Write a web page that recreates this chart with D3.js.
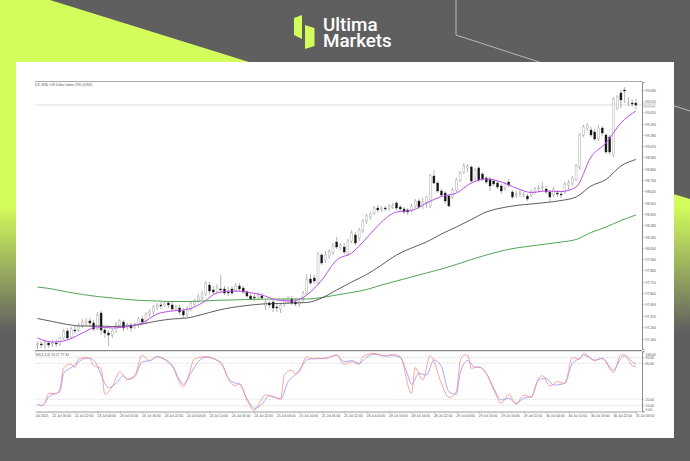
<!DOCTYPE html>
<html>
<head>
<meta charset="utf-8">
<script src="https://cdn.jsdelivr.net/npm/d3@7"></script>
<style>
  html, body { margin: 0; padding: 0; background: #5f5f5f; }
  svg { display: block; }
  text { font-family: "Liberation Sans", sans-serif; }
</style>
</head>
<body>
<div id="chart-area"></div>
<script>
// candles, one per bar
var opens = [97.08,97.09,97.08,97.10,97.09,97.10,97.09,97.15,97.22,97.16,
  97.23,97.23,97.28,97.30,97.32,97.30,97.24,97.40,97.23,97.20,
  97.18,97.22,97.28,97.31,97.26,97.28,97.26,97.28,97.34,97.32,
  97.39,97.41,97.46,97.48,97.48,97.50,97.48,97.44,97.45,97.42,
  97.39,97.44,97.49,97.52,97.56,97.59,97.68,97.63,97.62,97.64,
  97.64,97.61,97.64,97.63,97.67,97.65,97.61,97.57,97.56,97.56,
  97.57,97.47,97.50,97.51,97.46,97.44,97.48,97.52,97.54,97.51,
  97.49,97.54,97.60,97.74,97.75,97.70,97.98,97.93,97.97,98.00,
  98.11,98.06,98.06,97.99,98.12,98.18,98.15,98.23,98.32,98.36,
  98.40,98.45,98.44,98.45,98.45,98.46,98.50,98.46,98.44,98.43,
  98.43,98.47,98.52,98.47,98.50,98.47,98.77,98.70,98.62,98.60,
  98.57,98.56,98.63,98.73,98.81,98.85,98.86,98.75,98.85,98.79,
  98.75,98.74,98.72,98.70,98.67,98.65,98.71,98.61,98.58,98.59,
  98.58,98.57,98.58,98.61,98.64,98.65,98.64,98.61,98.58,98.60,
  98.59,98.61,98.68,98.70,98.73,98.86,99.18,99.25,99.23,99.21,
  99.14,99.25,99.18,99.16,98.98,99.45,99.60,99.63,99.50,99.50,99.50]
var highs = [97.11,97.12,97.13,97.12,97.13,97.14,97.16,97.24,97.25,97.26,
  97.27,97.30,97.34,97.35,97.35,97.33,97.41,97.42,97.25,97.23,
  97.24,97.31,97.34,97.33,97.30,97.30,97.30,97.36,97.37,97.41,
  97.44,97.48,97.50,97.51,97.52,97.52,97.51,97.48,97.48,97.45,
  97.47,97.52,97.54,97.59,97.62,97.72,97.71,97.67,97.69,97.78,
  97.67,97.66,97.67,97.70,97.70,97.67,97.63,97.60,97.59,97.61,
  97.60,97.53,97.52,97.53,97.49,97.50,97.55,97.57,97.57,97.55,
  97.54,97.62,97.79,97.79,97.78,98.01,98.00,98.02,98.04,98.10,
  98.16,98.10,98.10,98.14,98.23,98.21,98.25,98.34,98.39,98.41,
  98.47,98.48,98.47,98.47,98.49,98.50,98.52,98.48,98.46,98.45,
  98.49,98.54,98.54,98.55,98.57,98.79,98.83,98.72,98.64,98.62,
  98.59,98.65,98.75,98.82,98.90,98.89,98.88,98.85,98.87,98.81,
  98.77,98.76,98.74,98.72,98.69,98.71,98.74,98.63,98.62,98.63,
  98.61,98.59,98.63,98.66,98.68,98.71,98.67,98.63,98.66,98.63,
  98.62,98.71,98.73,98.77,98.89,99.20,99.28,99.30,99.26,99.24,
  99.28,99.27,99.20,99.18,99.56,99.58,99.63,99.66,99.56,99.54,99.54]
var lows = [97.04,97.05,97.04,97.05,97.06,97.06,97.07,97.13,97.13,97.14,
  97.19,97.21,97.25,97.27,97.26,97.22,97.23,97.18,97.15,97.07,
  97.15,97.20,97.25,97.22,97.23,97.21,97.24,97.25,97.28,97.29,
  97.36,97.38,97.43,97.44,97.46,97.45,97.42,97.42,97.38,97.35,
  97.36,97.42,97.47,97.50,97.53,97.57,97.59,97.58,97.60,97.60,
  97.58,97.57,97.58,97.61,97.62,97.59,97.55,97.53,97.52,97.54,
  97.53,97.43,97.45,97.41,97.41,97.40,97.46,97.49,97.48,97.47,
  97.46,97.51,97.58,97.68,97.69,97.68,97.88,97.90,97.94,97.98,
  98.04,98.03,97.99,97.97,98.10,98.08,98.12,98.20,98.29,98.33,
  98.38,98.41,98.41,98.42,98.42,98.44,98.43,98.41,98.39,98.38,
  98.41,98.45,98.44,98.44,98.45,98.45,98.69,98.60,98.56,98.49,
  98.46,98.54,98.61,98.71,98.79,98.81,98.70,98.72,98.71,98.72,
  98.69,98.62,98.67,98.64,98.59,98.62,98.66,98.54,98.55,98.56,
  98.56,98.52,98.56,98.59,98.61,98.62,98.59,98.52,98.56,98.56,
  98.55,98.59,98.63,98.67,98.72,98.83,99.16,99.22,99.16,99.12,
  99.12,99.17,98.99,98.98,98.96,99.43,99.45,99.50,99.47,99.46,99.44]
var closes = [97.09,97.08,97.10,97.08,97.10,97.09,97.15,97.22,97.15,97.24,
  97.22,97.27,97.31,97.32,97.30,97.24,97.38,97.23,97.20,97.18,
  97.22,97.28,97.32,97.25,97.28,97.25,97.28,97.34,97.31,97.39,
  97.41,97.46,97.48,97.47,97.50,97.48,97.44,97.46,97.41,97.38,
  97.44,97.50,97.52,97.56,97.59,97.69,97.62,97.61,97.65,97.63,
  97.60,97.60,97.60,97.67,97.64,97.61,97.57,97.54,97.55,97.58,
  97.55,97.51,97.48,97.45,97.45,97.48,97.53,97.55,97.50,97.49,
  97.51,97.60,97.74,97.70,97.72,97.99,97.90,97.98,98.01,98.07,
  98.06,98.08,98.01,98.12,98.20,98.10,98.23,98.32,98.37,98.39,
  98.45,98.43,98.45,98.44,98.47,98.47,98.45,98.44,98.41,98.41,
  98.47,98.52,98.46,98.51,98.56,98.77,98.70,98.62,98.58,98.52,
  98.47,98.63,98.73,98.80,98.87,98.87,98.72,98.83,98.73,98.74,
  98.71,98.67,98.69,98.66,98.62,98.69,98.68,98.56,98.59,98.60,
  98.59,98.54,98.61,98.64,98.65,98.66,98.61,98.56,98.64,98.59,
  98.58,98.69,98.70,98.75,98.87,99.18,99.26,99.28,99.18,99.14,
  99.25,99.20,99.01,99.01,99.54,99.56,99.53,99.62,99.50,99.49,99.48]

// moving averages, read every 4th bar
var maBars = d3.range(0, 161, 4)
var maFast = [97.15,97.11,97.13,97.20,97.26,97.25,97.265,97.30,97.39,97.42,97.435,97.50,97.60,97.62,97.61,97.58,97.53,97.52,97.58,97.73,97.93,98.00,98.15,98.31,98.41,98.425,98.50,98.565,98.60,98.70,98.74,98.71,98.65,98.605,98.62,98.615,98.66,98.96,99.10,99.30,99.42]
var maMid = [97.345,97.315,97.285,97.27,97.27,97.265,97.27,97.29,97.32,97.34,97.35,97.385,97.425,97.455,97.475,97.49,97.495,97.50,97.505,97.55,97.63,97.71,97.785,97.88,97.98,98.05,98.11,98.19,98.26,98.335,98.41,98.45,98.475,98.49,98.505,98.525,98.56,98.67,98.735,98.87,98.935]
var maSlow = [97.66,97.64,97.61,97.585,97.565,97.55,97.535,97.525,97.52,97.515,97.515,97.52,97.527,97.53,97.535,97.538,97.54,97.54,97.54,97.555,97.58,97.605,97.635,97.68,97.72,97.76,97.80,97.84,97.885,97.935,97.98,98.02,98.05,98.07,98.09,98.11,98.135,98.205,98.26,98.325,98.38]

// stochastic lines, read at their turning points
var kBars = [0,1,2,3,5,6,7,9,10,11,13,14,15,17,18,20,22,24,26,28,30,32,34,36,39,40,42,45,49,52,53,54,56,58,59,61,63,65,66,68,69,70,72,73,75,77,80,82,84,86,87,90,93,95,97,100,101,103,105,108,110,112,113,114,115,116,118,120,122,124,126,128,130,132,134,135,137,139,141,143,145,146,149,151,154,156,157,159,160]
var kValues = [13.3,9.4,14.9,29.9,29.9,38.3,72.7,78.8,72.7,87.2,89.4,88.3,76.1,71.6,28.3,41.1,66,53.3,59.4,93.8,84.4,91,85.5,74.4,41.1,52.2,87.2,91,80,44.9,42.7,46.6,18.8,1.1,10.5,27.2,24.4,20.5,60.5,68.8,61.6,66,91,88.3,88.3,88.3,93.8,78.3,82.7,78.3,91,96.6,92.2,94.9,91,29.9,72.7,52.2,92.7,46.6,22.7,32.7,82.7,93.8,93.8,71.6,74.4,63.3,35.5,13.3,28.3,11.6,27.2,23.3,55,59.4,42.2,49.4,46.6,89.4,87.2,96.6,84.4,88.3,65,93.8,93.8,76.1,74.27]
var dBars = [0,1,2,3,6,7,9,11,13,14,16,17,19,21,23,24,26,28,30,32,34,36,38,39,41,43,45,49,51,53,54,56,58,60,62,65,67,69,70,72,73,77,80,82,84,86,88,90,93,95,97,99,100,102,104,106,108,110,112,113,115,117,118,120,122,124,126,128,130,132,134,136,138,141,143,145,146,149,151,154,156,157,159,160]
var dValues = [11.6,9.4,13.3,24.4,32.7,63.3,72.7,82.7,88.3,88.3,76.1,60.5,39.4,46.6,59.4,53.3,57.7,82.7,84.4,91,87.2,77.2,52.2,44.9,63.3,82.7,90,81.6,54.9,46.6,44.9,21.6,4.9,11.6,26,20.5,49.4,61.6,68.8,85.5,87.2,88.3,93.8,82.7,84.4,80,90,94.9,92.2,92.7,89.4,60.5,44.9,63.3,60.5,85.5,74.4,32.7,28.3,63.3,84.4,73.3,73.3,63.3,38.3,18.8,21.6,13.3,21.6,24.4,52.2,54.9,43.8,46.6,80,88.3,93.8,85.5,88.3,68.8,88.3,92.7,82.7,77.94]

// axis labels
var priceTicks = [99.63,99.52,99.41,99.29,99.18,99.07,98.96,98.84,98.73,98.62,98.50,98.39,98.28,98.16,98.05,97.94,97.83,97.71,97.60,97.49,97.37,97.26,97.14]
var stochTicks = [100,90,80,20,10,0]
var timeBars = [0,4,10,16,22,28,34,40,46,52,58,64,70,76,82,88,94,100,106,112,118,124,130,136,142,148,154,160]
var timeLabels = ['Jul 2025','22 Jul 16:00','22 Jul 22:00','23 Jul 04:00','23 Jul 10:00','23 Jul 16:00','23 Jul 22:00','24 Jul 04:00','24 Jul 10:00','24 Jul 16:00','24 Jul 22:00','25 Jul 04:00','25 Jul 10:00','25 Jul 16:00','25 Jul 22:00','28 Jul 04:00','28 Jul 10:00','28 Jul 16:00','28 Jul 22:00','29 Jul 04:00','29 Jul 10:00','29 Jul 16:00','29 Jul 22:00','30 Jul 04:00','30 Jul 10:00','30 Jul 16:00','30 Jul 22:00','31 Jul 04:00']

var lime = '#d3fd5b'
var grey = '#5f5f5f'
var axisColor = '#8a8a8a'
var textColor = '#555'

var svg = d3.select('#chart-area')
  .append('svg')
  .attr('width', 690)
  .attr('height', 461)

// fade from lime to grey, shared by both corners
var fade = svg.append('defs').append('linearGradient')
  .attr('id', 'fade')
  .attr('gradientUnits', 'userSpaceOnUse')
  .attr('x1', 0).attr('x2', 0)
  .attr('y1', 205).attr('y2', 332)
fade.append('stop').attr('offset', 0).attr('stop-color', lime)
fade.append('stop').attr('offset', 1).attr('stop-color', grey)

// banner background
svg.append('rect').attr('width', 690).attr('height', 461).attr('fill', grey)
svg.append('polygon')
  .attr('points', '0,0 50,0 249,62 300,78 300,340 0,340')
  .attr('fill', 'url(#fade)')
svg.append('polygon')
  .attr('points', '660,190 690,199 690,340 660,340')
  .attr('fill', 'url(#fade)')
svg.append('polyline')
  .attr('points', '456,0 456,35 690,111')
  .attr('fill', 'none')
  .attr('stroke', '#d0d0d0')
  .attr('stroke-width', 0.8)

// logo
svg.append('polygon').attr('points', '294,18 302,15 302,39 294,35').attr('fill', lime)
svg.append('polygon').attr('points', '305,25 314.5,28 314.5,46 305,49').attr('fill', lime)
var logoText = svg.append('text')
  .attr('font-size', 18.8).attr('font-weight', 500).attr('fill', '#fff')
  .style('font-family', 'Roboto, sans-serif')
logoText.append('tspan').attr('x', 323).attr('y', 30.5).text('Ultima')
logoText.append('tspan').attr('x', 323).attr('y', 47).text('Markets')

// white card
svg.append('rect').attr('x', 16).attr('y', 62).attr('width', 658).attr('height', 376).attr('fill', '#fff')

// Scales
var x = d3.scaleLinear().domain([0, 160]).range([37.5, 635.9])
var y = d3.scaleLinear().domain([97.04, 99.71]).range([349, 82])
var yStoch = d3.scaleLinear().domain([0, 100]).range([411.3, 351.3])

// panes
var g = svg.append('g')

g.append('line').attr('x1', 35).attr('x2', 642).attr('y1', 81.5).attr('y2', 81.5)
  .attr('stroke', '#a8a8a8').attr('stroke-width', 1)
g.append('line').attr('x1', 35).attr('x2', 642).attr('y1', 350.6).attr('y2', 350.6)
  .attr('stroke', '#8a8a8a').attr('stroke-width', 1.2)
g.append('line').attr('x1', 35).attr('x2', 642).attr('y1', 411.8).attr('y2', 411.8)
  .attr('stroke', '#b5b5b5').attr('stroke-width', 0.8)

// stochastic levels
g.selectAll('.level')
  .data([90, 80, 20, 10])
  .enter().append('line')
  .attr('class', 'level')
  .attr('x1', 35).attr('x2', 642)
  .attr('y1', function (d) { return yStoch(d) })
  .attr('y2', function (d) { return yStoch(d) })
  .attr('stroke', '#c4c4c4')
  .attr('stroke-width', 0.6)
  .attr('stroke-dasharray', '1,1')

// last price line
var lastPrice = closes[closes.length - 1]
g.append('line')
  .attr('x1', 35).attr('x2', 642)
  .attr('y1', y(lastPrice)).attr('y2', y(lastPrice))
  .attr('stroke', '#d4d4d4')
  .attr('stroke-width', 0.8)

// candles
var candles = g.selectAll('.candle')
  .data(d3.range(opens.length))
  .enter().append('g')
  .attr('class', 'candle')

candles.append('line')
  .attr('x1', function (i) { return x(i) })
  .attr('x2', function (i) { return x(i) })
  .attr('y1', function (i) { return y(highs[i]) })
  .attr('y2', function (i) { return y(lows[i]) })
  .attr('stroke', '#808080')
  .attr('stroke-width', 0.6)

candles.append('rect')
  .attr('x', function (i) { return x(i) - 1 })
  .attr('width', 2)
  .attr('y', function (i) { return y(Math.max(opens[i], closes[i])) })
  .attr('height', function (i) { return Math.max(0.6, Math.abs(y(opens[i]) - y(closes[i]))) })
  .attr('fill', function (i) { return closes[i] < opens[i] ? '#111' : '#fff' })
  .attr('stroke', function (i) { return closes[i] < opens[i] ? '#333' : '#999' })
  .attr('stroke-width', 0.4)

// moving averages
var maLine = d3.line()
  .x(function (d, i) { return x(maBars[i]) })
  .y(function (d) { return y(d) })
  .curve(d3.curveMonotoneX)

g.append('path').attr('d', maLine(maSlow)).attr('fill', 'none').attr('stroke', '#3c9a42').attr('stroke-width', 0.9)
g.append('path').attr('d', maLine(maMid)).attr('fill', 'none').attr('stroke', '#333').attr('stroke-width', 0.8)
g.append('path').attr('d', maLine(maFast)).attr('fill', 'none').attr('stroke', '#bd4cee').attr('stroke-width', 1)

// stochastic lines
function stochLine (bars) {
  return d3.line()
    .x(function (d, i) { return x(bars[i]) })
    .y(function (d) { return yStoch(d) })
    .curve(d3.curveMonotoneX)
}

g.append('path').attr('d', stochLine(dBars)(dValues)).attr('fill', 'none').attr('stroke', '#9494fa').attr('stroke-width', 0.8)
g.append('path').attr('d', stochLine(kBars)(kValues)).attr('fill', 'none').attr('stroke', '#fa8c8c').attr('stroke-width', 0.8)

// price axis
var yAxisCall = d3.axisRight(y)
  .tickValues(priceTicks)
  .tickSize(2.5)
  .tickPadding(1)
  .tickFormat(function (d) { return d.toFixed(3) })

var yAxisGroup = g.append('g')
  .attr('transform', 'translate(642, 0)')
  .call(yAxisCall)

// stochastic axis
var stochAxisCall = d3.axisRight(yStoch)
  .tickValues(stochTicks)
  .tickSize(2.5)
  .tickPadding(1)
  .tickFormat(function (d) { return d.toFixed(2) })

var stochAxisGroup = g.append('g')
  .attr('transform', 'translate(642, 0)')
  .call(stochAxisCall)

// 100 and 0 sit inside the pane like in the terminal
stochAxisGroup.selectAll('.tick text')
  .attr('dy', function (d) { return d === 100 ? '1.2em' : d === 0 ? '-0.3em' : '0.32em' })

// time axis
var xAxisCall = d3.axisBottom(x)
  .tickValues(timeBars)
  .tickSize(1.5)
  .tickPadding(1)
  .tickFormat(function (d, i) { return timeLabels[i] })

var xAxisGroup = g.append('g')
  .attr('transform', 'translate(0, 411.8)')
  .call(xAxisCall)

xAxisGroup.selectAll('.tick text').attr('text-anchor', 'start').attr('x', -0.5)
xAxisGroup.select('.tick text').attr('x', -2.5)

;[yAxisGroup, stochAxisGroup, xAxisGroup].forEach(function (a) {
  a.select('.domain').attr('stroke', axisColor).attr('stroke-width', 1)
  a.selectAll('.tick line').attr('stroke', axisColor).attr('stroke-width', 0.5)
  a.selectAll('.tick text').attr('fill', textColor).attr('font-size', 3.4)
    .style('font-family', '"Liberation Sans", sans-serif')
})
xAxisGroup.select('.domain').attr('stroke', '#b5b5b5').attr('stroke-width', 0.8)

// last price tag
g.append('rect').attr('x', 643.5).attr('y', y(lastPrice) - 2.5).attr('width', 12).attr('height', 5).attr('fill', '#d4d4d4')
g.append('text').attr('x', 645).attr('y', y(lastPrice) + 1.2).attr('font-size', 3.4).attr('fill', '#fff').text(lastPrice.toFixed(3))

// headers
g.append('text').attr('x', 35).attr('y', 85.5).attr('font-size', 3.4).attr('fill', textColor)
  .text('DX, M30: US Dollar Index CFD (USD)')
g.append('text').attr('x', 35).attr('y', 356).attr('font-size', 3.4).attr('fill', textColor)
  .text('%K(5,3,3) 74.27 77.94')
</script>
</body>
</html>
